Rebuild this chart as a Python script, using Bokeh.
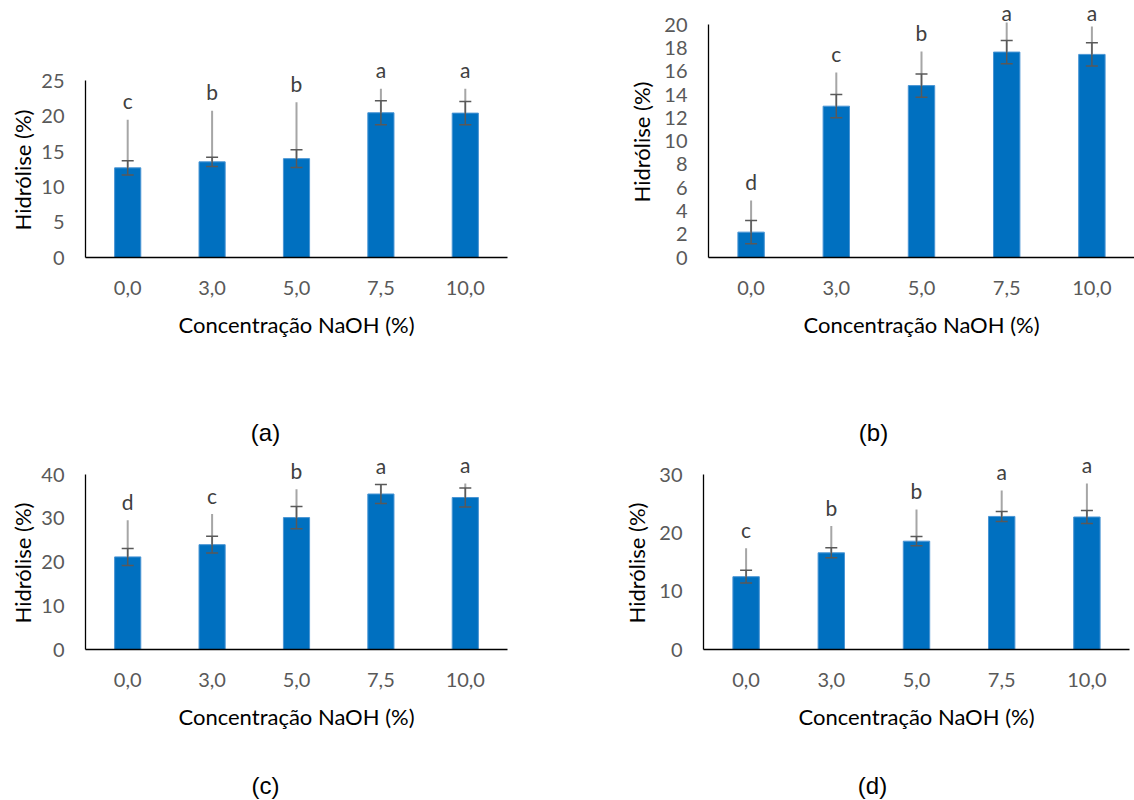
from bokeh.plotting import figure
from bokeh.models import (ColumnDataSource, FixedTicker, LabelSet, FactorRange,
                          Range1d, Title)
from bokeh.core.properties import value
from bokeh.layouts import column, row
from bokeh.embed import file_html
from bokeh.resources import INLINE

# NaOH concentrations (categories shared by all four panels)
concentracoes = ["0,0", "3,0", "5,0", "7,5", "10,0"]

# (a)
hidrolise_a = [12.7, 13.55, 14.0, 20.5, 20.45]
desvio_a = [1.0, 0.65, 1.25, 1.7, 1.65]
letras_a = ["c", "b", "b", "a", "a"]
rotulo_a = [19.5, 20.8, 22.0, 23.9, 23.9]

# (b)
hidrolise_b = [2.18, 13.0, 14.77, 17.65, 17.45]
desvio_b = [1.0, 1.0, 1.0, 1.0, 1.0]
letras_b = ["d", "c", "b", "a", "a"]
rotulo_b = [4.9, 15.9, 17.7, 20.2, 19.85]

# (c)
hidrolise_c = [21.2, 24.0, 30.2, 35.6, 34.8]
desvio_c = [1.95, 1.9, 2.55, 2.15, 2.15]
letras_c = ["d", "c", "b", "a", "a"]
rotulo_c = [29.6, 31.0, 36.7, 37.8, 38.0]

# (d)
hidrolise_d = [12.5, 16.6, 18.6, 22.85, 22.75]
desvio_d = [1.1, 0.85, 0.8, 0.85, 1.1]
letras_d = ["c", "b", "b", "a", "a"]
rotulo_d = [17.4, 21.2, 24.05, 27.3, 28.5]

# y-axis: last tick, tick step, top of the visible range (room for letters)
eixo_a = (25, 5, 36.4)
eixo_b = (20, 2, 22.08)
eixo_c = (40, 10, 45.56)
eixo_d = (30, 10, 34.17)

AZUL = "#0070C0"
CINZA_ERRO = "#595959"
CINZA_GUIA = "#A6A6A6"
FONTE = "Lato"
ACIMA = 19      # letter height above the end of its leader line, px


def painel(medias, desvios, letras, rotulos, eixo, largura, altura,
           b_esq, b_dir, b_base, desloc_titulo, afast_titulo):
    y_max, passo, y_topo = eixo
    p = figure(x_range=FactorRange(*concentracoes), y_range=Range1d(0, y_topo),
               width=largura, height=altura, output_backend="svg",
               toolbar_location=None, min_border_left=b_esq,
               min_border_right=b_dir, min_border_top=0,
               min_border_bottom=b_base)
    p.outline_line_color = None
    p.xgrid.visible = False
    p.ygrid.visible = False

    # keep letters that sit close to the top edge fully on the canvas
    px_unid = (altura - b_base) / y_topo
    desloc = [min(ACIMA, (y_topo - g) * px_unid - 12) for g in rotulos]

    src = ColumnDataSource(dict(
        x=concentracoes, y=medias,
        sup=[m + d for m, d in zip(medias, desvios)],
        inf=[m - d for m, d in zip(medias, desvios)],
        guia=rotulos, letra=letras, desloc=desloc))

    p.vbar(x="x", top="y", width=0.31, source=src, fill_color=AZUL,
           line_color="#4A95D4", line_width=1)
    # leader lines from the bar top to the significance letter
    p.segment(x0="x", y0="y", x1="x", y1="guia", source=src,
              line_color=CINZA_GUIA, line_width=2)
    # standard deviation bars
    p.segment(x0="x", y0="inf", x1="x", y1="sup", source=src,
              line_color=CINZA_ERRO, line_width=1.5)
    p.scatter(x="x", y="sup", marker="dash", size=12, source=src,
              line_color=CINZA_ERRO, line_width=1.5)
    p.scatter(x="x", y="inf", marker="dash", size=12, source=src,
              line_color=CINZA_ERRO, line_width=1.5)

    p.add_layout(LabelSet(x="x", y="guia", text="letra", source=src,
                          y_offset="desloc", text_align="center",
                          text_baseline="middle", text_font=value(FONTE),
                          text_font_size=value("21px"),
                          text_color="#404040"))

    p.yaxis.ticker = FixedTicker(ticks=list(range(0, y_max + 1, passo)))
    p.yaxis.bounds = (0, y_max)
    for ax in (p.xaxis[0], p.yaxis[0]):
        ax.axis_line_color = "#000000"
        ax.axis_line_width = 1.3
        ax.major_tick_line_color = None
        ax.minor_tick_line_color = None
        ax.major_label_text_font = FONTE
        ax.major_label_text_font_size = "20px"
        ax.major_label_text_color = CINZA_ERRO
        ax.axis_label_text_font = FONTE
        ax.axis_label_text_font_size = "22px"
        ax.axis_label_text_font_style = "normal"
        ax.axis_label_text_color = "#000000"
    p.xaxis.axis_label = "Concentração NaOH (%)"
    p.xaxis.major_label_standoff = 17
    p.xaxis.axis_label_standoff = 13
    p.yaxis.major_label_standoff = 15

    # y title centred on the 0..y_max span of the axis
    p.add_layout(Title(text="Hidrólise (%)", align="left",
                       offset=desloc_titulo, standoff=afast_titulo,
                       vertical_align="bottom", text_font=FONTE,
                       text_font_size="22px", text_font_style="normal",
                       text_color="#000000"), "left")
    return p


def legenda(texto, x, y, largura, altura):
    p = figure(x_range=Range1d(0, largura), y_range=Range1d(0, altura),
               width=largura, height=altura, output_backend="svg",
               toolbar_location=None, x_axis_type=None, y_axis_type=None,
               min_border=0)
    p.outline_line_color = None
    p.text(x=[x], y=[y], text=[texto], text_align="center",
           text_baseline="middle", text_font=value("Liberation Sans"),
           text_font_size="24px", text_color="#000000")
    return p


pa = painel(hidrolise_a, desvio_a, letras_a, rotulo_a, eixo_a,
            567, 400, 85, 60, 143, 27, 6)
pb = painel(hidrolise_b, desvio_b, letras_b, rotulo_b, eixo_b,
            567, 400, 141, 0, 142, 55, 14)
pc = painel(hidrolise_c, desvio_c, letras_c, rotulo_c, eixo_c,
            567, 300, 85, 60, 101, 26, 6)
pd = painel(hidrolise_d, desvio_d, letras_d, rotulo_d, eixo_d,
            567, 300, 136, 5, 101, 26, 14)

la = legenda("(a)", 265, 18, 567, 50)
lb = legenda("(b)", 306, 18, 567, 50)
lc = legenda("(c)", 265, 15, 567, 50)
ld = legenda("(d)", 305, 15, 567, 50)

layout = column(row(pa, pb), row(la, lb), row(pc, pd), row(lc, ld))
open("out.html", "w").write(file_html(layout, INLINE))
